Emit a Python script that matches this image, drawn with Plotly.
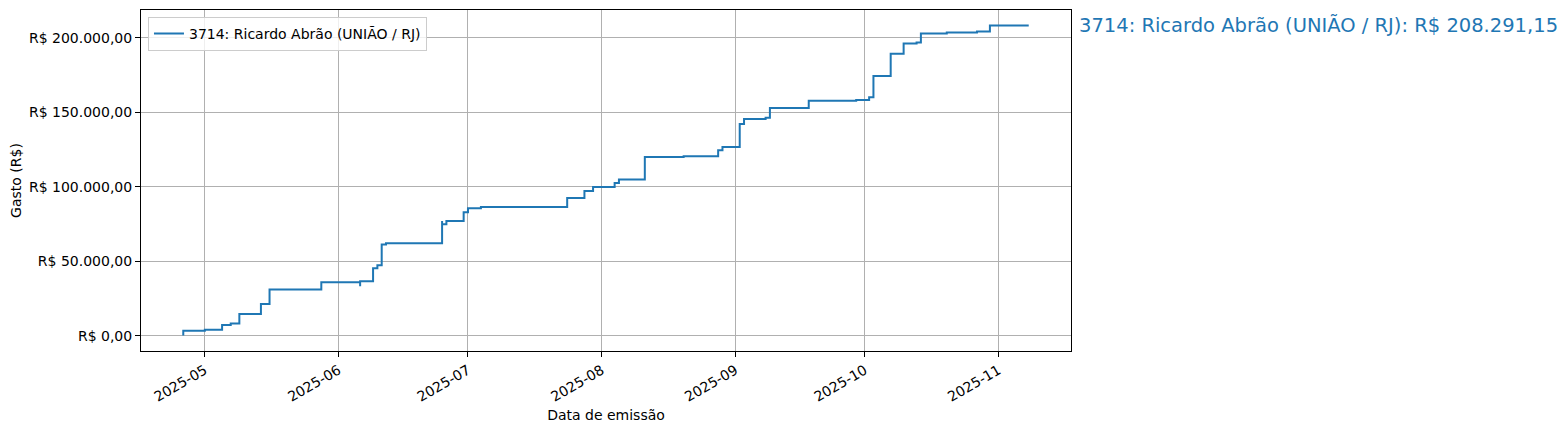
import pandas as pd
import plotly.graph_objects as go

# gasto acumulado por data de emissão (R$)
datas = [
    "2025-04-26", "2025-05-01", "2025-05-05", "2025-05-07", "2025-05-09",
    "2025-05-14", "2025-05-16", "2025-05-28", "2025-06-06", "2025-06-06",
    "2025-06-09", "2025-06-10", "2025-06-11", "2025-06-12", "2025-06-25",
    "2025-06-25", "2025-06-26", "2025-06-30", "2025-07-01", "2025-07-04",
    "2025-07-24", "2025-07-28", "2025-07-30", "2025-08-04", "2025-08-05",
    "2025-08-11", "2025-08-20", "2025-08-28", "2025-08-29", "2025-09-02",
    "2025-09-03", "2025-09-08", "2025-09-09", "2025-09-18", "2025-09-29",
    "2025-10-02", "2025-10-03", "2025-10-07", "2025-10-10", "2025-10-13",
    "2025-10-14", "2025-10-20", "2025-10-27", "2025-10-30", "2025-11-08",
]
gasto_acumulado = [
    200.00, 3370.00, 4040.00, 7200.00, 8280.00,
    14600.00, 21300.00, 31000.00, 35900.00, 33200.00,
    36600.00, 45300.00, 47300.00, 61300.00, 62200.00,
    77000.00, 74900.00, 77000.00, 83000.00, 85700.00,
    86400.00, 92500.00, 97200.00, 99900.00, 102600.00,
    104900.00, 120100.00, 120600.00, 124600.00, 126800.00,
    142100.00, 145500.00, 146300.00, 152900.00, 157700.00,
    158200.00, 160100.00, 174400.00, 189400.00, 196200.00,
    196900.00, 202900.00, 203600.00, 204200.00, 208291.15,
]
y_ticks = [0, 50000, 100000, 150000, 200000]

rotulo = "3714: Ricardo Abrão (UNIÃO / RJ)"
cor = "#1f77b4"


def brl(v):
    s = f"{v:,.2f}".replace(",", "X").replace(".", ",").replace("X", ".")
    return f"R$ {s}"


df = pd.DataFrame({"data": pd.to_datetime(datas), "gasto": gasto_acumulado})
total = df["gasto"].iloc[-1]

# margens de 5% como o matplotlib
dx = (df["data"].max() - df["data"].min()) * 0.05
dy = (df["gasto"].max() - df["gasto"].min()) * 0.05
x_range = [df["data"].min() - dx, df["data"].max() + dx]
y_range = [df["gasto"].min() - dy, df["gasto"].max() + dy]

fig = go.Figure()
fig.add_trace(go.Scatter(
    x=df["data"], y=df["gasto"], mode="lines", name=rotulo,
    line=dict(color=cor, width=2, shape="vh"),
))

fig.add_annotation(
    x=1, xref="paper", y=total, yref="y", xanchor="left", yanchor="middle",
    xshift=6, showarrow=False, text=f"{rotulo}: {brl(total)}",
    font=dict(size=19.5, color=cor),
)

eixo = dict(
    showline=True, linecolor="black", linewidth=1, mirror=True,
    ticks="outside", ticklen=5, tickcolor="black",
    showgrid=True, gridcolor="#b0b0b0", gridwidth=1, zeroline=False,
    tickfont=dict(size=14, color="black"),
)

# a página tem 8px de margem no body, por isso 1560x422
fig.update_layout(
    width=1560, height=422,
    margin=dict(l=133, r=497, t=2, b=79),
    plot_bgcolor="white", paper_bgcolor="white",
    font=dict(family="DejaVu Sans", size=14, color="black"),
    showlegend=True,
    legend=dict(
        x=0.0075, y=0.98, xanchor="left", yanchor="top",
        bgcolor="rgba(255,255,255,0.8)", bordercolor="#cccccc", borderwidth=1,
        font=dict(size=14), tracegroupgap=0,
    ),
    xaxis=dict(
        eixo, range=x_range, tickformat="%Y-%m", dtick="M1", tick0="2025-05-01",
        tickangle=-30,
        title=dict(text="Data de emissão", font=dict(size=14), standoff=6),
    ),
    yaxis=dict(
        eixo, range=y_range, tickvals=y_ticks, ticktext=[brl(v) for v in y_ticks],
        title=dict(text="Gasto (R$)", font=dict(size=14), standoff=10),
    ),
)

fig.write_html("out.html")
